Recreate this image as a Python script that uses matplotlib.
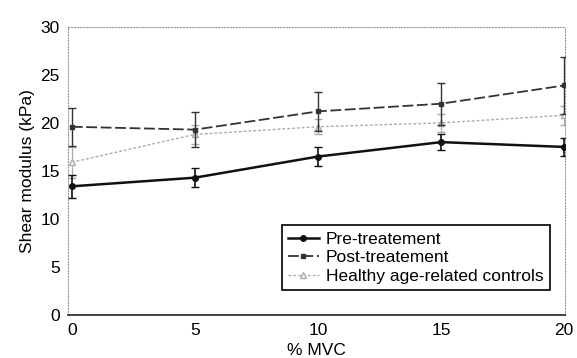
import matplotlib.pyplot as plt
from matplotlib.lines import Line2D

# Dados
mvc = [0, 5, 10, 15, 20]
pre = [13.4, 14.3, 16.5, 18.0, 17.5]
pre_err = [1.2, 1.0, 1.0, 0.8, 0.9]
post = [19.6, 19.3, 21.2, 22.0, 23.9]
post_err = [2.0, 1.8, 2.0, 2.2, 3.0]
healthy = [15.9, 18.8, 19.6, 20.0, 20.8]
healthy_err = [1.6, 1.0, 0.8, 0.9, 1.0]

plt.rcParams['font.family'] = ['Liberation Sans', 'DejaVu Sans']

fig = plt.figure(figsize=(5.77, 3.58), dpi=100)
ax = fig.add_axes([0.118, 0.12, 0.862, 0.805])

estilos = [
    dict(color='#111111', lw=1.8, ls='-', marker='o', ms=4, mfc='#111111'),
    dict(color='#333333', lw=1.3, ls=(0, (6, 2)), marker='s', ms=3.5, mfc='#333333'),
    dict(color='#aaaaaa', lw=1.0, ls=(0, (2, 1.5)), marker='^', ms=4, mfc='white'),
]
nomes = ['Pre-treatement', 'Post-treatement', 'Healthy age-related controls']
series = [(pre, pre_err, 1.2, 4), (post, post_err, 1.0, 3), (healthy, healthy_err, 0.9, 2)]

handles = []
for (y, e, elw, z), st, nome in zip(series, estilos, nomes):
    ax.errorbar(mvc, y, yerr=e, capsize=3, elinewidth=elw, zorder=z, **st)
    handles.append(Line2D([], [], **st))

ax.set_xlim(-0.15, 20.05)
ax.set_ylim(0, 30)
ax.set_xticks(mvc)
ax.set_yticks([0, 5, 10, 15, 20, 25, 30])
ax.tick_params(length=0, labelsize=12.5, pad=6)
ax.set_xlabel('% MVC', fontsize=12.5, labelpad=3)
ax.set_ylabel('Shear modulus (kPa)', fontsize=12.5)

for s in ['top', 'right', 'left']:
    ax.spines[s].set_color('#999999')
    ax.spines[s].set_linewidth(0.8)
    ax.spines[s].set_linestyle(':')
ax.spines['bottom'].set_color('#222222')
ax.spines['bottom'].set_linewidth(1.2)

leg = ax.legend(handles, nomes, loc='lower right', bbox_to_anchor=(0.968, 0.087), fontsize=12.5,
                frameon=True, fancybox=False, framealpha=1, edgecolor='black', borderpad=0.35,
                labelspacing=0.2, handlelength=1.8, handletextpad=0.4, borderaxespad=0)
leg.get_frame().set_linewidth(1.2)

fig.savefig('out.png', dpi=100)
